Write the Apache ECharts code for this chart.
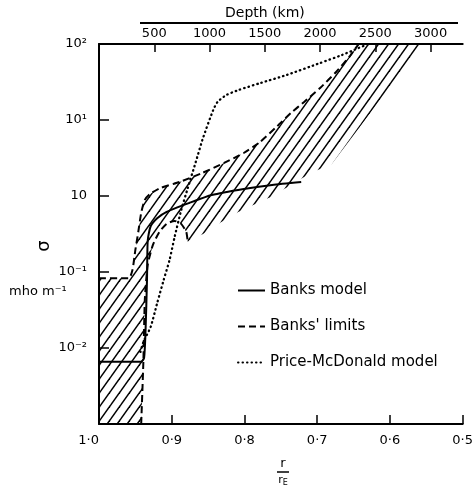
<!DOCTYPE html>
<html><head><meta charset="utf-8">
<script src="https://cdn.jsdelivr.net/npm/echarts@6/dist/echarts.min.js"></script>
<style>html,body{margin:0;background:#fff}#c{width:476px;height:489px}</style>
</head><body><div id="c"></div>
<script>
// r / rE positions and conductivity (mho/m)
const banksModelR = [1.000, 0.942, 0.938, 0.936, 0.934, 0.933, 0.929, 0.920, 0.907, 0.876, 0.845, 0.801, 0.762, 0.722];
const banksModelS = [0.0066, 0.0066, 0.0074, 0.017, 0.079, 0.26, 0.40, 0.51, 0.62, 0.81, 1.03, 1.24, 1.40, 1.53];

const upperLimitR = [1.000, 0.959, 0.954, 0.950, 0.946, 0.942, 0.937, 0.930, 0.916, 0.889, 0.858, 0.828, 0.801, 0.779, 0.755, 0.736, 0.718, 0.696, 0.674, 0.654, 0.643];
const upperLimitS = [0.083, 0.083, 0.106, 0.195, 0.336, 0.60, 0.89, 1.06, 1.27, 1.53, 2.01, 2.72, 3.68, 5.1, 8.3, 12.4, 17.3, 26.4, 42.8, 71.6, 100];

const lowerLimitR = [0.942, 0.939, 0.937, 0.933, 0.926, 0.917, 0.907, 0.896, 0.887, 0.880, 0.878];
const lowerLimitS = [0.001, 0.0066, 0.043, 0.124, 0.226, 0.336, 0.43, 0.47, 0.43, 0.336, 0.25];

// lower-right edge of the hatched band (from hook end up to the top)
const hatchEdgeR = [0.857, 0.834, 0.808, 0.788, 0.764, 0.736, 0.709, 0.680, 0.555];
const hatchEdgeS = [0.316, 0.44, 0.62, 0.76, 0.97, 1.40, 2.01, 2.64, 100];

const priceMcDonaldR = [0.943, 0.939, 0.929, 0.920, 0.911, 0.903, 0.896, 0.887, 0.878, 0.867, 0.857, 0.843, 0.837, 0.825, 0.808, 0.778, 0.742, 0.696, 0.666, 0.643, 0.630];
const priceMcDonaldS = [0.0089, 0.012, 0.0189, 0.039, 0.079, 0.144, 0.29, 0.65, 1.27, 2.8, 5.8, 13.5, 17.3, 21.3, 24.8, 30.7, 39.1, 56.2, 71.6, 88.6, 100];

const yTickLabels = ['', '10⁻²', '10⁻¹', '10', '10¹', '10²']; // exponents -3..2
const seriesNames = ['Banks model', "Banks' limits", 'Price-McDonald model'];

const zip = (a, b) => a.map((v, i) => [v, b[i]]);
const FONT = 'DejaVu Sans';

// hatched region polygon: upper limit, along top, lower edge, lower limit, bottom
const hatchPoly = zip(upperLimitR, upperLimitS)
  .concat(zip(hatchEdgeR, hatchEdgeS).reverse())
  .concat(zip(lowerLimitR, lowerLimitS).reverse())
  .concat([[1.0, 0.001]]);

// hatch pattern
const pc = document.createElement('canvas');
const PW = 10, PH = 14;
pc.width = PW; pc.height = PH;
const pctx = pc.getContext('2d');
pctx.strokeStyle = '#000'; pctx.lineWidth = 1.5;
for (const dx of [-PW, 0, PW]) {
  pctx.beginPath();
  pctx.moveTo(dx - PW, 2 * PH); pctx.lineTo(dx + 2 * PW, -PH);
  pctx.stroke();
}

const chart = echarts.init(document.getElementById('c'), null, {renderer: 'canvas'});
const axisLine = {show: true, lineStyle: {color: '#000', width: 2}};
const labelStyle = {color: '#000', fontFamily: FONT, fontSize: 13};

chart.setOption({
  animation: false,
  backgroundColor: '#fff',
  grid: {left: 99, right: 2, top: 44, bottom: 65},
  legend: {
    orient: 'vertical', left: 232, top: 278,
    itemWidth: 27, itemHeight: 14, itemGap: 21,
    itemStyle: {opacity: 0, borderWidth: 0},
    data: seriesNames,
    textStyle: {fontFamily: FONT, fontSize: 15, color: '#000'}
  },
  xAxis: [{
    type: 'value', position: 'bottom', inverse: true, min: 0.5, max: 1.0, interval: 0.1,
    axisLine: axisLine,
    axisTick: {inside: true, length: 9, lineStyle: {color: '#000', width: 1.5}},
    axisLabel: Object.assign({margin: 10, alignMaxLabel: 'right',
      formatter: v => v.toFixed(1).replace('.', '·')}, labelStyle),
    splitLine: {show: false}
  }, {
    type: 'value', position: 'top', min: 0, max: 3290, interval: 500,
    axisLine: axisLine,
    axisTick: {inside: true, length: 8, lineStyle: {color: '#000', width: 1.5}},
    axisLabel: Object.assign({margin: 4, showMaxLabel: false, showMinLabel: false,
      formatter: v => (v % 500 === 0 && v > 0) ? String(v) : ''}, labelStyle),
    splitLine: {show: false}
  }],
  yAxis: {
    type: 'log', logBase: 10, min: 0.001, max: 100,
    axisLine: axisLine,
    axisTick: {inside: true, length: 10, lineStyle: {color: '#000', width: 1.5}},
    axisLabel: Object.assign({margin: 12, formatter: v => yTickLabels[Math.round(Math.log10(v)) + 3]}, labelStyle),
    splitLine: {show: false}, minorTick: {show: false}
  },
  graphic: [
    {type: 'line', shape: {x1: 140, y1: 23, x2: 458, y2: 23}, style: {stroke: '#000', lineWidth: 2}},
    {type: 'text', left: 225, top: 6, style: {text: 'Depth (km)', font: '14px "DejaVu Sans"', fill: '#000'}},
    {type: 'text', left: 9, top: 285, style: {text: 'mho m⁻¹', font: '13px "DejaVu Sans"', fill: '#000'}},
    {type: 'text', x: 44, y: 246, rotation: Math.PI / 2,
      style: {text: 'σ', font: '18px "DejaVu Sans"', fill: '#000', textAlign: 'center', textVerticalAlign: 'middle', verticalAlign: 'middle'}},
    // x-axis label r / rE as a small fraction
    {type: 'text', x: 283, y: 470, style: {text: 'r', font: '13px "DejaVu Sans"', fill: '#000', textAlign: 'center', textVerticalAlign: 'bottom', verticalAlign: 'bottom'}},
    {type: 'line', shape: {x1: 277, y1: 472, x2: 289, y2: 472}, style: {stroke: '#000', lineWidth: 1.5}},
    {type: 'text', x: 283, y: 474, style: {text: '{b|r}{s|E}', rich: {b: {fontSize: 11, fontFamily: FONT}, s: {fontSize: 8, fontFamily: FONT, padding: [5, 0, 0, 0]}}, fill: '#000', textAlign: 'center', textVerticalAlign: 'top', verticalAlign: 'top'}}
  ],
  series: [{
    type: 'custom', name: 'hatch', silent: true, xAxisIndex: 0, yAxisIndex: 0,
    data: hatchPoly,
    renderItem: function (params, api) {
      if (params.dataIndex !== 0) return;
      const pts = hatchPoly.map(p => api.coord(p));
      return {type: 'polygon', shape: {points: pts},
        style: {fill: {image: pc, repeat: 'repeat'}, stroke: null}};
    },
    z: 1
  }, {
    type: 'line', name: seriesNames[0], data: zip(banksModelR, banksModelS),
    symbol: 'none', smooth: 0.2, lineStyle: {color: '#000', width: 2}, itemStyle: {color: '#000'}, z: 3
  }, {
    type: 'line', name: seriesNames[1], data: zip(upperLimitR, upperLimitS),
    symbol: 'none', smooth: 0.2, lineStyle: {color: '#000', width: 2, type: [7, 4]}, itemStyle: {color: '#000'}, z: 3
  }, {
    type: 'line', name: seriesNames[1], data: zip(lowerLimitR, lowerLimitS),
    symbol: 'none', smooth: 0.2, lineStyle: {color: '#000', width: 2, type: [7, 4]}, itemStyle: {color: '#000'}, z: 3
  }, {
    type: 'line', name: seriesNames[2], data: zip(priceMcDonaldR, priceMcDonaldS),
    symbol: 'none', smooth: 0.2, lineStyle: {color: '#000', width: 2.3, type: [0.5, 4], cap: 'round'}, itemStyle: {color: '#000'}, z: 3
  }]
});
</script></body></html>
